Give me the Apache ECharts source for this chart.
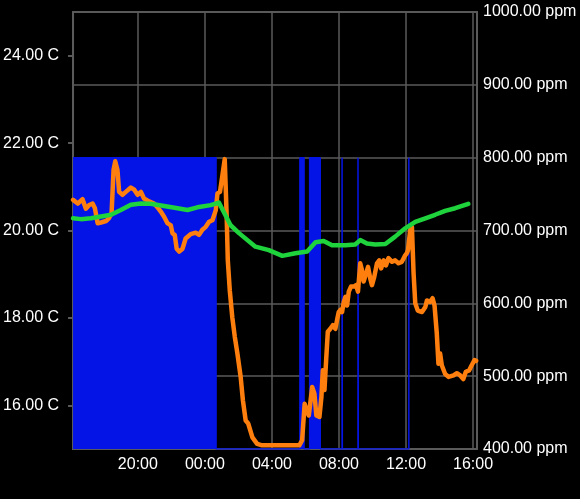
<!DOCTYPE html>
<html>
<head>
<meta charset="utf-8">
<script src="https://cdn.jsdelivr.net/npm/echarts@6/dist/echarts.min.js"></script>
<style>
html,body{margin:0;padding:0;background:#000;}
#chart{width:580px;height:499px;}
</style>
</head>
<body>
<div id="chart"></div>
<script>
// ---- data ----
const xRange = ['16:08', '16:14'];   // start day 1, end day 2
const xTickLabels = ['20:00', '00:00', '04:00', '08:00', '12:00', '16:00'];
const tempTicks = [16, 18, 20, 22, 24];
const tempRange = [15, 25];
const co2Range = [400, 1000];

const co2Times = ['16:08','16:12','16:25','16:42','16:54','17:06','17:18','17:26','17:36','17:48','18:06','18:17','18:26','18:33','18:39','18:47','18:53','19:05','19:17','19:35','19:47','19:59','20:11','20:22','20:40','20:58','21:10','21:22','21:34','21:46','21:58','22:04','22:12','22:19','22:28','22:40','22:51','23:09','23:27','23:39','23:51','00:03','00:15','00:27','00:39','00:45','00:54','01:02','01:11','01:14','01:18','01:22','01:29','01:38','01:47','01:56','02:08','02:16','02:26','02:35','02:50','03:07','03:25','05:38','05:48','05:57','06:06','06:12','06:24','06:32','06:39','06:50','06:57','07:02','07:08','07:14','07:20','07:29','07:38','07:47','07:53','07:59','08:05','08:11','08:17','08:23','08:29','08:35','08:43','08:53','09:01','09:08','09:16','09:22','09:28','09:37','09:44','09:52','09:58','10:06','10:16','10:24','10:31','10:40','10:48','10:57','11:10','11:21','11:33','11:45','11:57','12:03','12:07','12:15','12:21','12:27','12:33','12:42','12:57','13:09','13:15','13:26','13:35','13:42','13:50','13:56','14:02','14:08','14:20','14:32','14:50','15:02','15:14','15:25','15:34','15:46','15:55','16:05','16:11'];
const co2Values = [742,742,737,743,730,735,737,731,710,711,713,717,724,783,795,783,753,749,753,759,756,749,753,744,740,737,732,726,719,710,707,696,694,675,671,675,689,695,697,694,701,705,712,714,728,751,753,774,798,797,719,659,618,581,554,532,499,467,439,435,416,407,405,405,412,462,451,446,485,476,446,444,471,508,481,522,561,565,570,565,577,588,591,588,602,609,597,616,623,623,625,616,655,646,630,641,650,634,625,636,655,659,648,659,652,662,657,659,655,657,666,669,673,701,705,641,600,590,588,595,604,602,607,597,559,517,531,515,503,499,501,504,501,496,506,508,515,522,521];

const tempTimes = ['16:08','16:36','17:12','17:48','18:24','18:59','19:35','20:11','20:46','21:34','22:22','22:58','23:33','00:21','00:50','01:32','02:02','03:01','03:49','04:37','05:24','06:06','06:36','07:05','07:35','08:23','08:58','09:16','09:40','10:10','10:46','11:21','11:57','12:33','13:09','13:44','14:20','14:56','15:43'];
const tempValues = [20.28,20.26,20.28,20.32,20.36,20.47,20.59,20.62,20.61,20.56,20.51,20.47,20.53,20.58,20.64,20.12,19.94,19.63,19.55,19.42,19.48,19.52,19.73,19.76,19.66,19.66,19.68,19.78,19.70,19.68,19.69,19.86,20.05,20.20,20.28,20.36,20.45,20.51,20.61];

const heatTimes = ['16:08','00:40','05:40','05:55','06:15','06:53','08:11','08:12','09:08','09:09','12:10'];
const heatValues = [1,0,1,0,1,0,1,0,1,0,1];

// ---- helpers: clock strings -> minutes since 16:00 of day 1 ----
function toMinutesSeq(times) {
  let off = 0, prev = -1;
  return times.map(t => {
    const [h, m] = t.split(':').map(Number);
    const raw = h * 60 + m;
    if (raw < prev) off += 1440;
    prev = raw;
    return raw + off - 960;
  });
}
function zip(times, vals) {
  const mins = toMinutesSeq(times);
  return mins.map((m, i) => [m, vals[i]]);
}
const xr = [toMinutesSeq([xRange[0]])[0], toMinutesSeq([xRange[1]])[0] + 1440];
const xTicks = toMinutesSeq(['16:00'].concat(xTickLabels)).slice(1);
function fmtClock(v) {
  const t = ((Math.round(v) + 960) % 1440 + 1440) % 1440;
  const h = Math.floor(t / 60), m = t % 60;
  return String(h).padStart(2, '0') + ':' + String(m).padStart(2, '0');
}

const gridCol = '#5a5a5a';
const font = 'Liberation Sans, Arial, sans-serif';

const chart = echarts.init(document.getElementById('chart'));
chart.setOption({
  backgroundColor: '#000',
  animation: false,
  grid: {
    left: 72, right: 103, top: 12, bottom: 50,
    show: true, borderColor: gridCol, borderWidth: 2, backgroundColor: 'transparent'
  },
  xAxis: {
    type: 'value',
    min: xr[0], max: xr[1],
    axisLine: { show: true, lineStyle: { color: gridCol, width: 2 } },
    axisTick: { show: false, customValues: xTicks },
    axisLabel: {
      customValues: xTicks, color: '#fff', fontSize: 16, fontFamily: font, margin: 8,
      formatter: v => fmtClock(v)
    },
    splitLine: { show: true, lineStyle: { color: gridCol, width: 1.5 } }
  },
  yAxis: [
    {
      type: 'value', position: 'left', min: tempRange[0], max: tempRange[1],
      axisLine: { show: true, lineStyle: { color: gridCol, width: 2 } },
      axisTick: { show: true, customValues: tempTicks, length: 5, lineStyle: { color: gridCol, width: 2 } },
      axisLabel: {
        customValues: tempTicks, color: '#fff', fontSize: 16, fontFamily: font, margin: 14,
        formatter: v => v.toFixed(2) + ' C'
      },
      splitLine: { show: false }
    },
    {
      type: 'value', position: 'right', min: co2Range[0], max: co2Range[1], interval: 100,
      axisLine: { show: true, lineStyle: { color: gridCol, width: 2 } },
      axisTick: { show: false },
      axisLabel: {
        color: '#fff', fontSize: 16, fontFamily: font, margin: 6,
        formatter: v => v.toFixed(2) + ' ppm'
      },
      splitLine: { show: true, lineStyle: { color: gridCol, width: 1.5 } }
    },
    {
      type: 'value', min: 0, max: 1.5, show: false
    }
  ],
  series: [
    {
      type: 'line', yAxisIndex: 2, step: 'end', symbol: 'none', z: 1,
      data: zip(heatTimes, heatValues),
      lineStyle: { color: '#0514e6', width: 1.5 },
      areaStyle: { color: '#0514e6', opacity: 1, origin: 'start' }
    },
    {
      type: 'line', yAxisIndex: 1, symbol: 'none', z: 2,
      data: zip(co2Times, co2Values),
      lineStyle: { color: '#ff7f0e', width: 4.5, join: 'round', cap: 'round' }
    },
    {
      type: 'line', yAxisIndex: 0, symbol: 'none', z: 3,
      data: zip(tempTimes, tempValues),
      lineStyle: { color: '#1ed33c', width: 4.5, join: 'round', cap: 'round' }
    }
  ]
});
</script>
</body>
</html>
